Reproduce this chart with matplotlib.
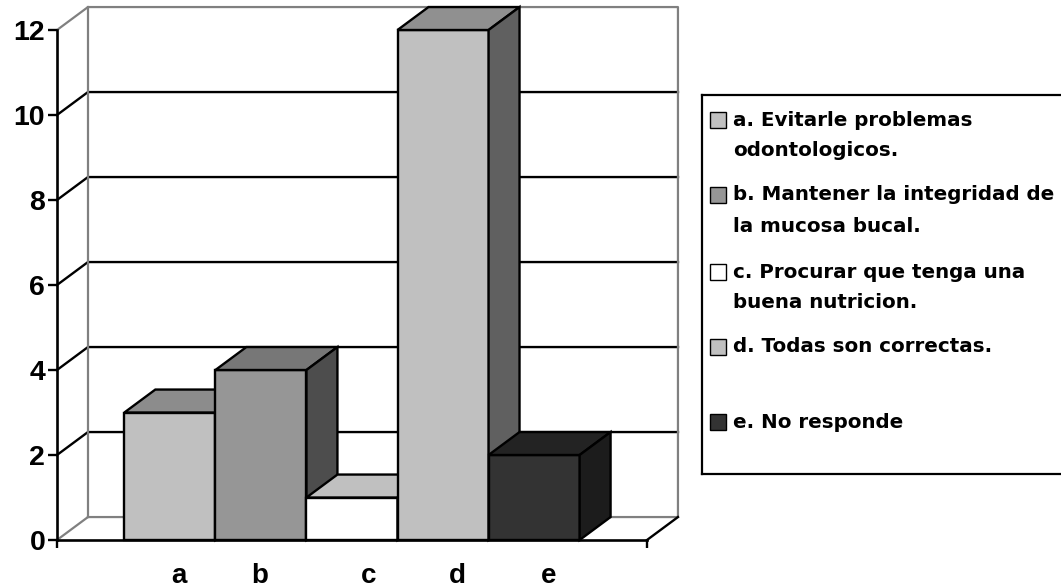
import matplotlib
matplotlib.use("Agg")
import matplotlib.pyplot as plt
from matplotlib.patches import Rectangle, Polygon

# ---- data ----
categories = ["a", "b", "c", "d", "e"]
values = [3, 4, 1, 12, 2]
legend_lines = [
    ["a. Evitarle problemas", "odontologicos."],
    ["b. Mantener la integridad de", "la mucosa bucal."],
    ["c. Procurar que tenga una", "buena nutricion."],
    ["d. Todas son correctas."],
    ["e. No responde"],
]
y_ticks = [0, 2, 4, 6, 8, 10, 12]

# face colours per bar: front, top, side
front_col = ["#c0c0c0", "#969696", "#ffffff", "#c0c0c0", "#333333"]
top_col = ["#8c8c8c", "#777777", "#c0c0c0", "#909090", "#232323"]
side_col = ["#606060", "#4d4d4d", "#c0c0c0", "#606060", "#1c1c1c"]

W, H = 1061, 588
fig = plt.figure(figsize=(W / 100, H / 100), dpi=100)
fig.patch.set_facecolor("white")

# front plane of the 3-D box, in pixel placement
px_left, px_right, px_bottom, px_top = 57, 647, 540, 30
ax = fig.add_axes([px_left / W, (H - px_bottom) / H,
                   (px_right - px_left) / W, (px_bottom - px_top) / H])
xmin, xmax = -1.24, 5.24
ymin, ymax = 0, 12
ax.set_xlim(xmin, xmax)
ax.set_ylim(ymin, ymax)
ax.set_facecolor("none")

# oblique depth offset (data units)
DX, DY = 0.34, 0.54
wall = "#808080"
lw_wall = 1.6

# horizontal gridlines on side and back walls
for v in y_ticks[1:-1]:
    ax.plot([xmin, xmin + DX, xmax + DX], [v, v + DY, v + DY],
            color="black", lw=1.7, clip_on=False, zorder=1)

# wall outlines
ax.plot([xmin + DX, xmin + DX], [DY, ymax + DY], color=wall, lw=lw_wall, clip_on=False, zorder=1)
ax.plot([xmin, xmin + DX], [0, DY], color=wall, lw=lw_wall, clip_on=False, zorder=1)
ax.plot([xmin, xmin + DX, xmax + DX, xmax + DX, xmin + DX],
        [ymax, ymax + DY, ymax + DY, DY, DY], color=wall, lw=lw_wall,
        clip_on=False, zorder=1)
ax.plot([xmax, xmax + DX], [0, DY], color="black", lw=1.7, clip_on=False, zorder=1)

# bars drawn left to right so nearer faces cover farther ones
for i, v in enumerate(values):
    x0, x1 = i - 0.5, i + 0.5
    ax.add_patch(Rectangle((x0, 0), 1.0, v, facecolor=front_col[i],
                           edgecolor="black", lw=1.7, clip_on=False, zorder=3 + i))
    ax.add_patch(Polygon([(x0, v), (x1, v), (x1 + DX, v + DY), (x0 + DX, v + DY)],
                         closed=True, facecolor=top_col[i], edgecolor="black",
                         lw=1.7, clip_on=False, zorder=3 + i))
    ax.add_patch(Polygon([(x1, 0), (x1 + DX, DY), (x1 + DX, v + DY), (x1, v)],
                         closed=True, facecolor=side_col[i], edgecolor="black",
                         lw=1.7, clip_on=False, zorder=3 + i))

# axes
for s in ["top", "right"]:
    ax.spines[s].set_visible(False)
for s in ["left", "bottom"]:
    ax.spines[s].set_linewidth(1.9)
    ax.spines[s].set_zorder(20)
ax.set_yticks(y_ticks)
ax.set_yticklabels([str(t) for t in y_ticks], fontsize=20.5, fontweight="bold",
                   family="Liberation Sans")
ax.tick_params(axis="y", length=6.5, width=1.7, pad=2)
ax.set_xticks([xmin, xmax])
ax.set_xticklabels(["", ""])
ax.tick_params(axis="x", length=5.5, width=1.7)

# category labels beneath the floor
label_shift = [0.10, -0.01, 0.18, 0.16, 0.16]
for i, c in enumerate(categories):
    ax.text(i + label_shift[i], -1.01, c, ha="center", va="baseline",
            fontsize=20, fontweight="bold", family="Liberation Sans")

# legend box
lg_left, lg_top, lg_bottom = 702, 95, 474
lax = fig.add_axes([lg_left / W, (H - lg_bottom) / H, (W - lg_left + 10) / W,
                    (lg_bottom - lg_top) / H])
lax.set_xlim(lg_left, W + 10)
lax.set_ylim(lg_bottom, lg_top)
lax.set_xticks([])
lax.set_yticks([])
for s in lax.spines.values():
    s.set_linewidth(1.6)

entry_y = [120, 195, 272, 347, 422]
line_gap = 31
for i, lines in enumerate(legend_lines):
    y = entry_y[i]
    lax.add_patch(Rectangle((710, y - 8), 16, 16, facecolor=front_col[i],
                            edgecolor="black", lw=1.0))
    for k, t in enumerate(lines):
        lax.text(733, y + k * line_gap, t, ha="left", va="center",
                 fontsize=14.3, fontweight="bold", family="DejaVu Sans")

fig.savefig("out.png", dpi=100, facecolor="white")
